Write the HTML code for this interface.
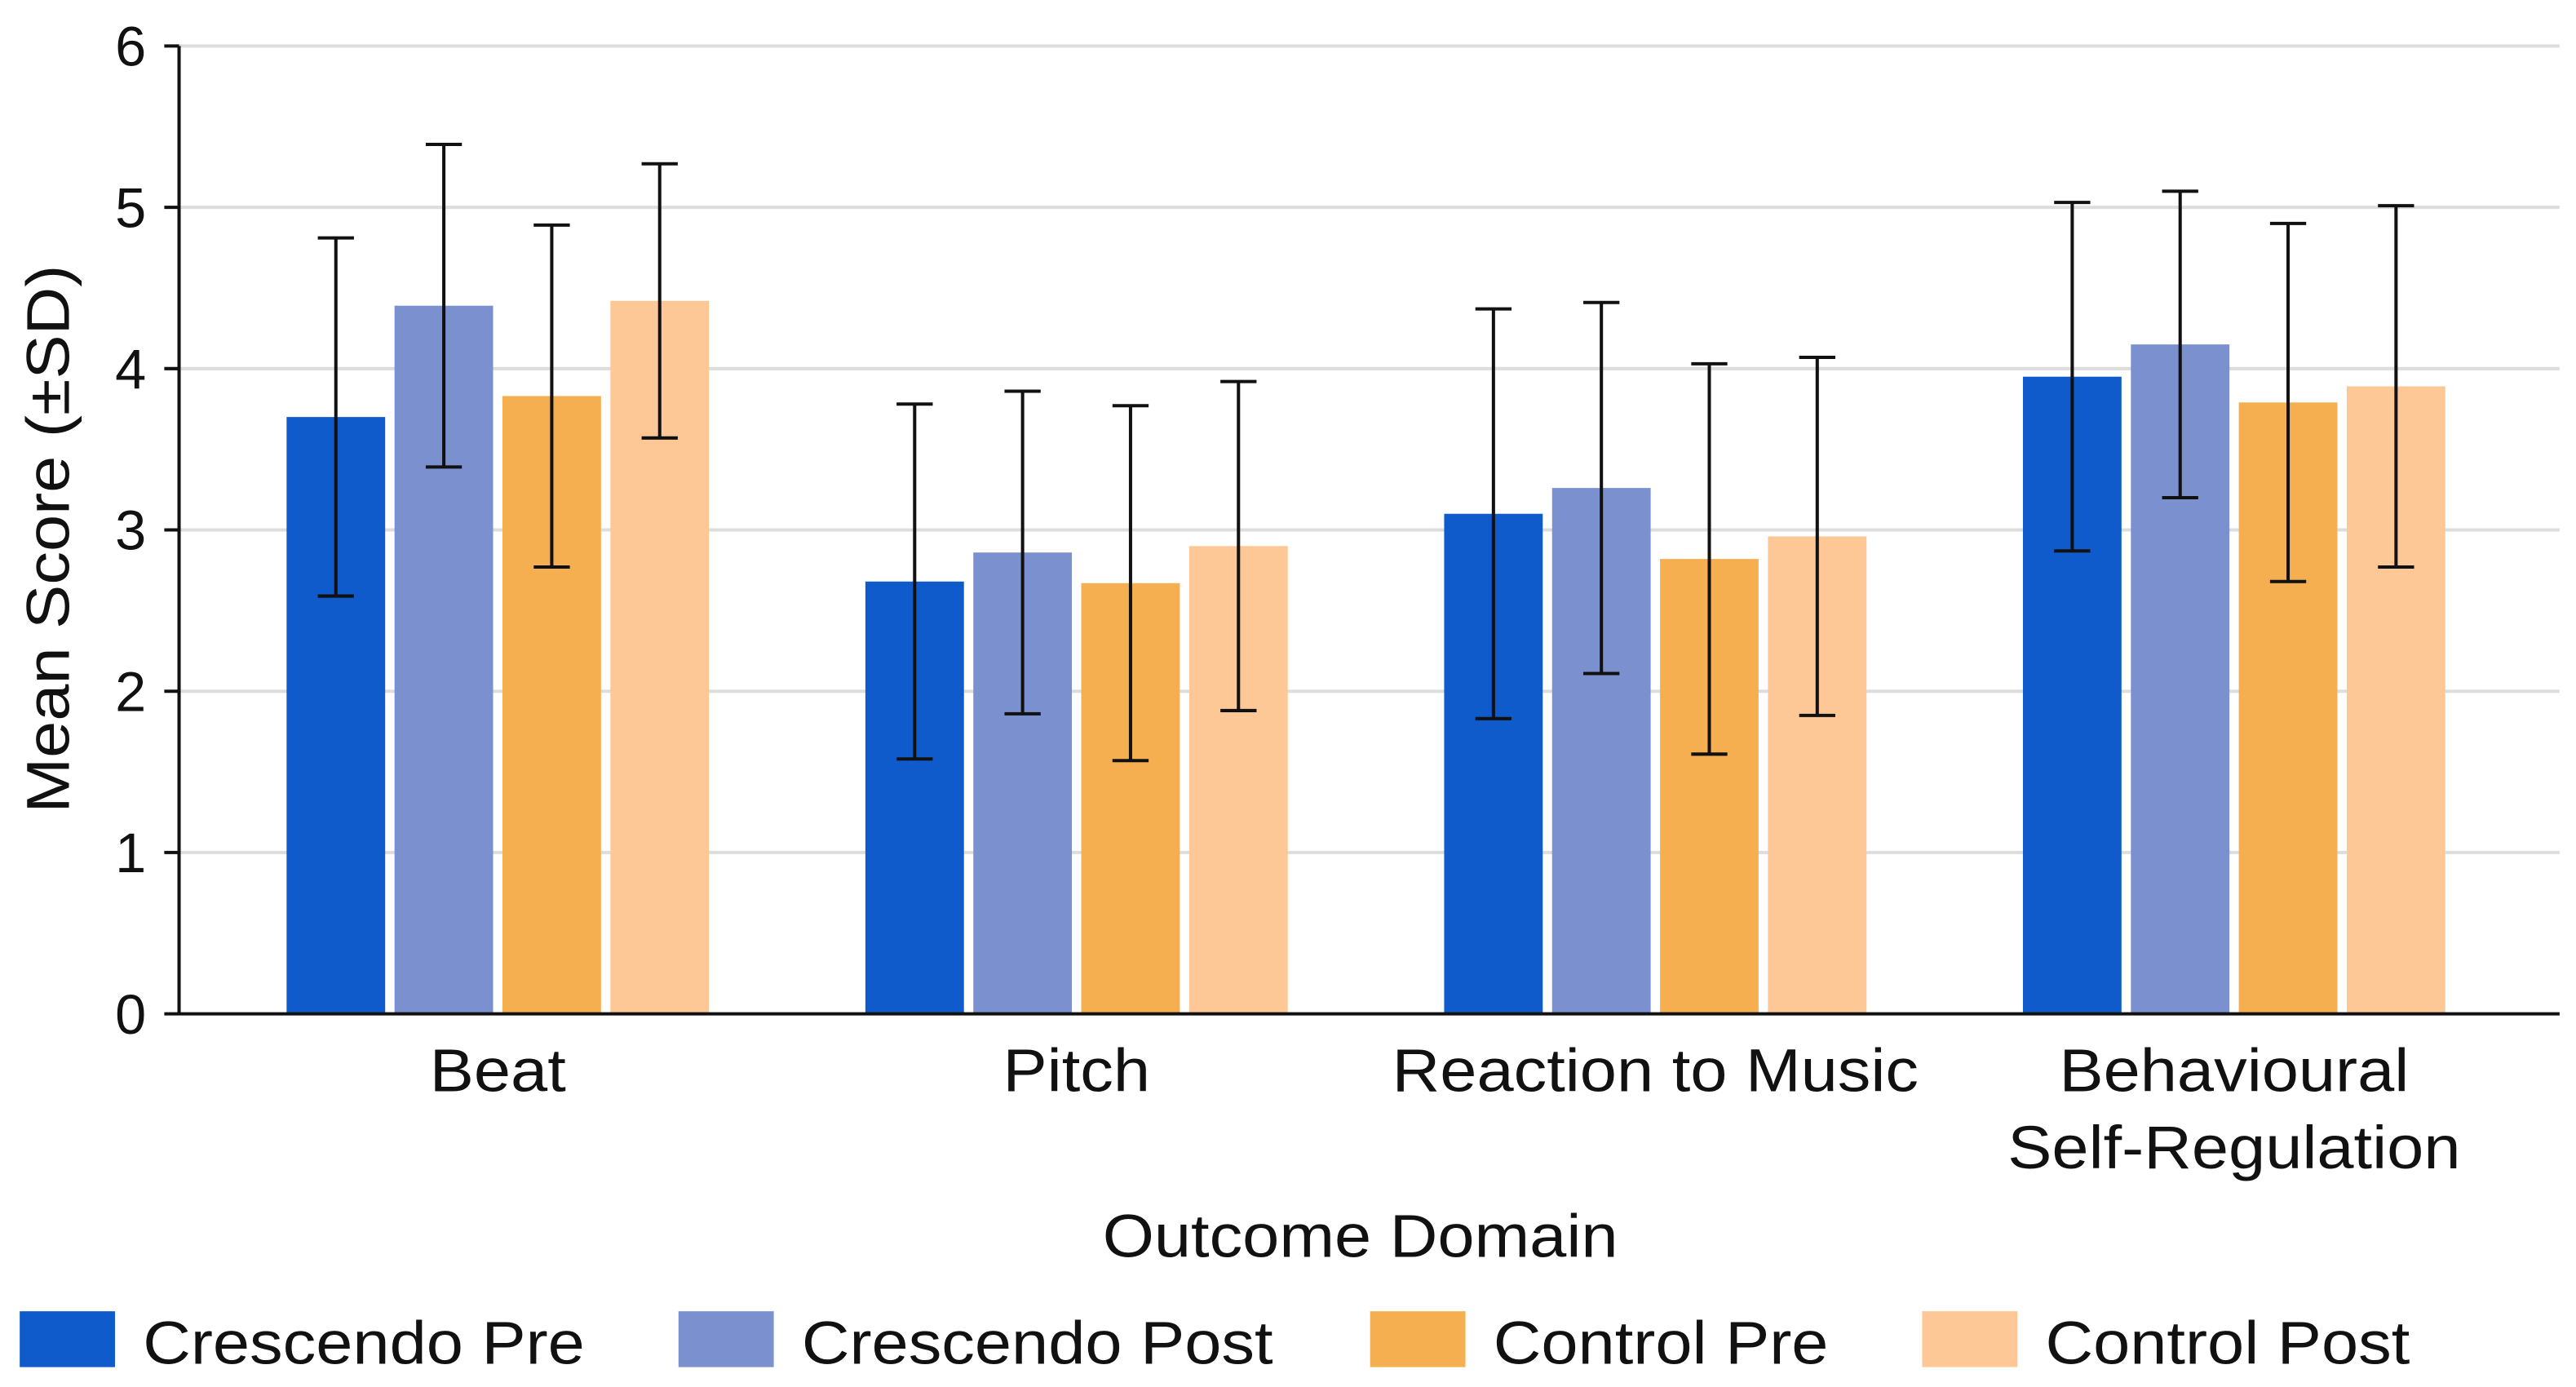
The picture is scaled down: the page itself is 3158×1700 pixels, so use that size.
<!DOCTYPE html>
<html><head><meta charset="utf-8"><style>
html,body{margin:0;padding:0;background:#fff}
svg{display:block}
text{font-family:"Liberation Sans",sans-serif;fill:#111}
</style></head><body>
<svg id="chart" width="3158" height="1700" viewBox="0 0 1568 844.1" preserveAspectRatio="none" xmlns="http://www.w3.org/2000/svg">
<g id="grid"></g>
<g id="bars"></g>
<g id="axes"></g>
<g id="legend"></g>
</svg>
<script>
const categories = [["Beat"],["Pitch"],["Reaction to Music"],["Behavioural","Self-Regulation"]];
const seriesNames = ["Crescendo Pre","Crescendo Post","Control Pre","Control Post"];
const crescendoPre = [3.70, 2.68, 3.10, 3.95];
const crescendoPost = [4.39, 2.86, 3.26, 4.15];
const controlPre = [3.83, 2.67, 2.82, 3.79];
const controlPost = [4.42, 2.90, 2.96, 3.89];
const crescendoPreSD = [1.11, 1.10, 1.27, 1.08];
const crescendoPostSD = [1.00, 1.00, 1.15, 0.95];
const controlPreSD = [1.06, 1.10, 1.21, 1.11];
const controlPostSD = [0.85, 1.02, 1.11, 1.12];
const yTicks = [0,1,2,3,4,5,6];
const colors = ["#0F5BCB","#7B91CF","#F5AF50","#FEC896"];

const NS="http://www.w3.org/2000/svg";
const values=[crescendoPre,crescendoPost,controlPre,controlPost];
const sds=[crescendoPreSD,crescendoPostSD,controlPreSD,controlPostSD];
const x0=109,x1=1558,y0=617,yTop=28;
function y(v){return y0-(v/6)*(y0-yTop);}
function gx(i){return 303+i*352.3;}
const barW=60,step=65.7;
const stretch=1.09;
function mk(tag,attrs,parent){const e=document.createElementNS(NS,tag);for(const k in attrs)e.setAttribute(k,attrs[k]);parent.appendChild(e);return e;}
function widen(t){const w=t.getComputedTextLength();t.setAttribute('textLength',w*stretch);t.setAttribute('lengthAdjust','spacingAndGlyphs');}
const grid=document.getElementById('grid'),bars=document.getElementById('bars'),axes=document.getElementById('axes'),legend=document.getElementById('legend');
yTicks.forEach(t=>{
  if(t>0){const l=mk('line',{x1:x0,x2:x1,y1:y(t),y2:y(t),stroke:'#dddddd','stroke-width':2},grid);
  
  }
  const tk=mk('line',{x1:x0-9,x2:x0,y1:y(t),y2:y(t),stroke:'#111','stroke-width':2},axes);
  
  
  const tx=mk('text',{x:x0-20,y:y(t)+12,'text-anchor':'end','font-size':34},axes);tx.textContent=t;
  
  
});
categories.forEach((c,i)=>{
  for(let s=0;s<4;s++){
    const cx=gx(i)+(s-1.5)*step;
    const v=values[s][i],sd=sds[s][i];
    const r=mk('rect',{x:cx-barW/2,y:y(v),width:barW,height:y0-y(v),fill:colors[s]},bars);
    
    
    const g=mk('g',{stroke:'#111','stroke-width':2},bars);
    
    
    mk('line',{x1:cx,x2:cx,y1:y(v+sd),y2:y(v-sd)},g);
    mk('line',{x1:cx-11,x2:cx+11,y1:y(v+sd),y2:y(v+sd)},g);
    mk('line',{x1:cx-11,x2:cx+11,y1:y(v-sd),y2:y(v-sd)},g);
  }
  c.forEach((line,j)=>{
    const t=mk('text',{x:gx(i),y:664+j*47,'text-anchor':'middle','font-size':37},axes);t.textContent=line;
    
    
    widen(t);
  });
});
const ya=mk('line',{x1:x0,x2:x0,y1:yTop,y2:y0,stroke:'#111','stroke-width':2},axes);


const xa=mk('line',{x1:x0,x2:x1,y1:y0,y2:y0,stroke:'#111','stroke-width':2},axes);


const yt=mk('text',{x:0,y:0,'text-anchor':'middle','font-size':37,transform:'translate(42,328) rotate(-90)'},axes);yt.textContent='Mean Score (±SD)';


widen(yt);
const xt=mk('text',{x:828,y:765,'text-anchor':'middle','font-size':37},axes);xt.textContent='Outcome Domain';


widen(xt);
const lx=[12,413,834,1170];
seriesNames.forEach((n,s)=>{
  const g=mk('g',{},legend);
  
  
  mk('rect',{x:lx[s],y:798,width:58,height:34,fill:colors[s]},g);
  const t=mk('text',{x:lx[s]+75,y:830,'font-size':37},g);t.textContent=n;
  widen(t);
});
</script>
</body></html>
